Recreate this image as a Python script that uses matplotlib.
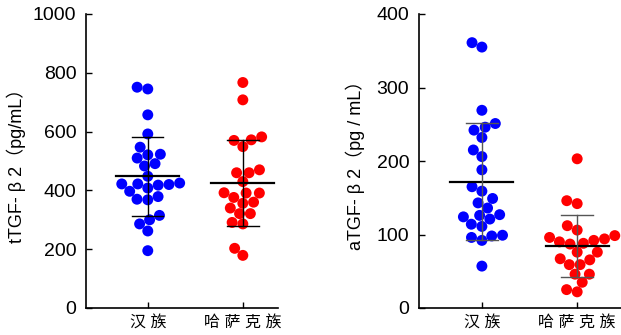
import matplotlib.pyplot as plt
import numpy as np

plt.rcParams['font.family'] = ['Liberation Sans', 'Noto Sans CJK SC']

groups = ['汉族', '哈萨克族']
colors = ['#0000ff', '#ff0000']

# tTGF-b2 (pg/mL)
ttgf_han = [745, 751, 657, 592, 547, 521, 523, 510, 491, 483, 448, 422, 422,
            425, 418, 420, 408, 397, 368, 379, 370, 315, 300, 286, 262, 195]
ttgf_kaz = [767, 708, 572, 582, 570, 549, 470, 460, 460, 430, 391, 391, 392,
            376, 360, 356, 340, 321, 321, 291, 286, 203, 179]
ttgf_mean = [448, 426]
ttgf_sd = [135, 146]

# aTGF-b2 (pg/mL)
atgf_han = [361, 355, 269, 251, 246, 242, 232, 215, 206, 188, 165, 159, 149,
            143, 136, 126, 124, 127, 121, 111, 114, 99, 98, 96, 92, 57]
atgf_kaz = [203, 142, 146, 112, 106, 98.5, 96, 94, 90, 87, 92, 88, 76, 76,
            67, 65.5, 59, 59, 46, 46, 35, 25, 22]
atgf_mean = [172, 84]
atgf_sd = [80, 42]


def swarm(ax, xc, vals, d):
    # simple beeswarm in pixel space, d = min distance between centres (px)
    pts = ax.transData.transform([(xc, v) for v in vals])
    cx = pts[0, 0]
    order = np.argsort(vals)
    placed = []
    xs = np.zeros(len(vals))
    for i in order:
        y = pts[i, 1]
        cands = [cx]
        for px, py in placed:
            dy = abs(y - py)
            if dy < d:
                dx = np.sqrt(d * d - dy * dy)
                cands += [px - dx, px + dx]
        cands.sort(key=lambda c: abs(c - cx))
        for c in cands:
            ok = all((c - px) ** 2 + (y - py) ** 2 >= d * d - 1e-6 for px, py in placed)
            if ok:
                break
        placed.append((c, y))
        xs[i] = c
    inv = ax.transData.inverted()
    return inv.transform(np.column_stack([xs, pts[:, 1]]))[:, 0]


fig = plt.figure(figsize=(6.21, 3.35), dpi=100)
ax1 = fig.add_axes([86 / 621, 27 / 335, 192 / 621, 294 / 335])
ax2 = fig.add_axes([419 / 621, 27 / 335, 202 / 621, 294 / 335])

panels = [
    (ax1, [ttgf_han, ttgf_kaz], ttgf_mean, ttgf_sd, 1000, 200, (-0.65, 1.37),
     'tTGF- β 2（pg/mL）', 'black', -0.31),
    (ax2, [atgf_han, atgf_kaz], atgf_mean, atgf_sd, 400, 100, (-0.66, 1.46),
     'aTGF- β 2（pg / mL）', '#555555', -0.265),
]

for ax, data, means, sds, ymax, ystep, xlim, ylabel, sdcol, labx in panels:
    ax.set_xlim(*xlim)
    ax.set_ylim(0, ymax)
    for i, vals in enumerate(data):
        xs = swarm(ax, i, vals, 10.8)
        ax.scatter(xs, vals, s=62, color=colors[i], edgecolors='none', zorder=2)
        ax.plot([i - 0.33, i + 0.33], [means[i], means[i]], color='black', lw=1.6, zorder=3)
        ax.plot([i, i], [means[i] - sds[i], means[i] + sds[i]], color=sdcol, lw=1.0, zorder=3)
        for e in (means[i] - sds[i], means[i] + sds[i]):
            ax.plot([i - 0.165, i + 0.165], [e, e], color=sdcol, lw=1.0, zorder=3)
    ax.set_yticks(np.arange(0, ymax + 1, ystep))
    ax.set_xticks([0, 1])
    ax.set_xticklabels([' '.join(g) for g in groups], fontsize=11.5)
    ax.tick_params(axis='y', direction='in', length=4, width=1, labelsize=14, pad=7)
    ax.tick_params(axis='x', direction='in', length=4, width=1, pad=5)
    ax.spines['top'].set_visible(False)
    ax.spines['right'].set_visible(False)
    ax.spines['left'].set_linewidth(1.2)
    ax.spines['bottom'].set_linewidth(1.2)
    ax.set_ylabel(ylabel, fontsize=13)
    ax.yaxis.set_label_coords(labx, 0.5)

plt.savefig('out.png', dpi=100)
